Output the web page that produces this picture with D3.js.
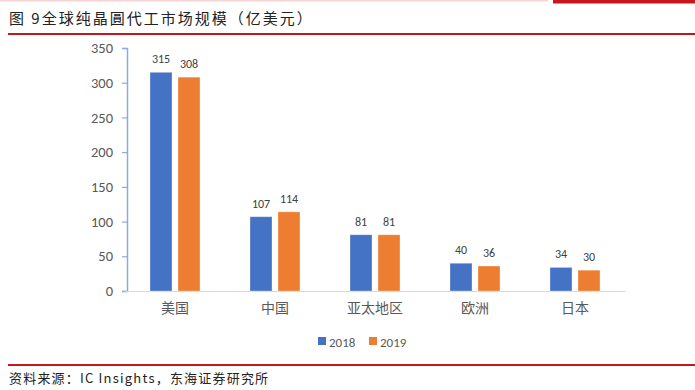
<!DOCTYPE html>
<html>
<head>
<meta charset="utf-8">
<script src="https://cdn.jsdelivr.net/npm/d3@7"></script>
<style>
  body { margin: 0; background: #fff; }
  svg { display: block; }
</style>
</head>
<body>
<div id="chart"></div>
<script>
// data
const categories = ["美国", "中国", "亚太地区", "欧洲", "日本"];
const seriesNames = ["2018", "2019"];
const values2018 = [315, 107, 81, 40, 34];
const values2019 = [308, 114, 81, 36, 30];
const yTicks = [0, 50, 100, 150, 200, 250, 300, 350];
const colors = ["#4472c4", "#ed7d31"];

const W = 695, H = 390;
const svg = d3.select("#chart").append("svg")
  .attr("width", W)
  .attr("height", H);

// header / footer decoration
svg.append("rect").attr("x", 0).attr("y", 0).attr("width", 548).attr("height", 1.5).attr("fill", "#f6d5d5");
svg.append("rect").attr("x", 553).attr("y", 0).attr("width", 142).attr("height", 3.5).attr("fill", "#c8161d");
svg.append("text")
  .attr("x", 9).attr("y", 24)
  .attr("font-family", "'Noto Sans CJK SC'")
  .attr("font-size", 15)
  .attr("letter-spacing", 2)
  .attr("fill", "#222")
  .text("图 9全球纯晶圓代工市场规模（亿美元）");
svg.append("rect").attr("x", 8).attr("y", 33).attr("width", 687).attr("height", 2).attr("fill", "#c8161d");
svg.append("rect").attr("x", 8).attr("y", 364).attr("width", 687).attr("height", 2).attr("fill", "#c8161d");
svg.append("text")
  .attr("x", 9).attr("y", 383)
  .attr("font-family", "'Noto Sans CJK SC'")
  .attr("font-size", 13)
  .attr("letter-spacing", 1.2)
  .attr("fill", "#222")
  .text("资料来源：IC Insights，东海证券研究所");

// scales
const x0 = d3.scaleBand().domain(categories).range([125, 625]);
const y = d3.scaleLinear().domain([0, 350]).range([291, 48]);

// y axis
const yAxis = svg.append("g")
  .attr("transform", "translate(127,0)")
  .call(d3.axisLeft(y).tickValues(yTicks).tickSize(5).tickPadding(9));
yAxis.select(".domain").attr("stroke", "#8eaadb").attr("stroke-width", 1.5);
yAxis.selectAll(".tick line").attr("stroke", "#8eaadb").attr("stroke-width", 1.2);
yAxis.selectAll(".tick text")
  .attr("font-family", "Calibri, 'Open Sans', sans-serif")
  .attr("font-size", 14.5)
  .attr("fill", "#595959");

// x axis
const xAxis = svg.append("g")
  .attr("transform", "translate(0,291)")
  .call(d3.axisBottom(x0).tickSize(0).tickPadding(12));
xAxis.select(".domain").attr("stroke", "#d9d9d9").attr("stroke-width", 1.2);
xAxis.selectAll(".tick text")
  .attr("font-family", "'Noto Sans CJK SC'")
  .attr("font-size", 14)
  .attr("fill", "#595959");

// bars
const barW = 22, gap = 6;
const offset = (x0.bandwidth() - (2 * barW + gap)) / 2;
const seriesVals = [values2018, values2019];
seriesVals.forEach((vals, si) => {
  const g = svg.append("g");
  const bx = (d, i) => x0(categories[i]) + offset + si * (barW + gap);
  g.selectAll("rect").data(vals).enter().append("rect")
    .attr("x", bx)
    .attr("y", d => y(d))
    .attr("width", barW)
    .attr("height", d => y(0) - y(d))
    .attr("fill", colors[si])
    .attr("stroke", "#fff")
    .attr("stroke-opacity", 0.4)
    .attr("stroke-width", 0.8);
  g.selectAll("text").data(vals).enter().append("text")
    .attr("x", (d, i) => bx(d, i) + barW / 2)
    .attr("y", d => y(d) - 9)
    .attr("text-anchor", "middle")
    .attr("font-family", "Calibri, 'Open Sans', sans-serif")
    .attr("font-size", 12)
    .attr("fill", "#404040")
    .text(d => d);
});

// legend
const legend = svg.append("g").attr("transform", "translate(318,342)");
seriesNames.forEach((name, i) => {
  const lg = legend.append("g").attr("transform", `translate(${i * 51},0)`);
  lg.append("rect").attr("x", 0).attr("y", -5).attr("width", 8).attr("height", 8).attr("fill", colors[i]);
  lg.append("text")
    .attr("x", 11).attr("y", 4.5)
    .attr("font-family", "Calibri, 'Open Sans', sans-serif")
    .attr("font-size", 13)
    .attr("fill", "#595959")
    .text(name);
});
</script>
</body>
</html>
